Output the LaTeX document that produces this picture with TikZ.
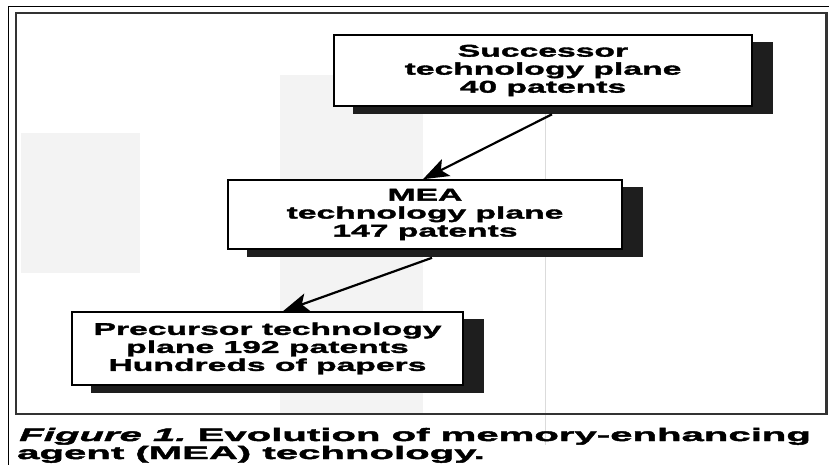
\documentclass[tikz,border=0pt]{standalone}
\usepackage{fontspec}
\usetikzlibrary{calc}
\newfontfamily\boxfont{Liberation Sans Bold}[FakeStretch=1.98, FakeBold=2]
\newfontfamily\capfont{Liberation Sans Bold}[FakeStretch=2.23, FakeBold=2.5]
\newfontfamily\capitfont{Liberation Sans Bold Italic}[FakeStretch=2.23, FakeBold=2.5]
\definecolor{framegray}{HTML}{333333}
\definecolor{shadowgray}{HTML}{1E1E1E}
\definecolor{ghost}{HTML}{F3F3F3}
\pgfdeclarelayer{paper}
\pgfdeclarelayer{shade}
\pgfsetlayers{paper,shade,main}
\tikzset{
  plane/.style={draw=black, line width=1.6pt, fill=white, inner sep=0pt,
    align=center, font=\boxfont\fontsize{17}{18}\selectfont},
  shaft/.style={draw=black, line width=2.2pt},
  capline/.style={anchor=base west, inner sep=0pt,
    font=\capfont\fontsize{18}{18}\selectfont}
}
% solid shadow offset to the lower right of a box
\newcommand\planeshadow[1]{%
  \fill[shadowgray] ($(#1.south west)+(20,-7.5)$) rectangle ($(#1.north east)+(20,-7.5)$);}
% connector from #1 to #2 with a filled stealth-shaped head at #2
\newcommand\flowlink[2]{%
  \draw[shaft] (#1) -- ($(#2)!16pt!(#1)$);
  \fill[black] (#2) -- ($($(#2)!26pt!(#1)$)!9.5pt!90:(#1)$)
    -- ($(#2)!20pt!(#1)$) -- ($($(#2)!26pt!(#1)$)!9.5pt!-90:(#1)$) -- cycle;}
\begin{document}
\begin{tikzpicture}[x=1pt, y=1pt]
  \useasboundingbox (0,0) rectangle (829,-465);

  \begin{pgfonlayer}{paper}
    \fill[white] (0,0) rectangle (829,-465);
    % faint show-through from the reverse of the page
    \fill[ghost] (21,-133) rectangle (140,-273);
    \fill[ghost] (280,-75) rectangle (423,-413);
    \draw[ghost!90!black, line width=0.8pt] (545,-110) -- (545,-445);
    % page border and figure frame
    \draw[black, line width=1.5pt] (829,-6.5) -- (8.5,-6.5) -- (8.5,-465);
    \draw[framegray, line width=2.5pt] (16,-13) rectangle (826.5,-414);
  \end{pgfonlayer}

  % technology planes
  \node[plane, minimum width=418pt, minimum height=71pt] (succ) at (543,-70.5)
    {Successor\\technology plane\\40 patents};
  \node[plane, minimum width=394pt, minimum height=69pt] (mea) at (425,-214.5)
    {MEA\\technology plane\\147 patents};
  \node[plane, minimum width=391pt, minimum height=73pt] (prec) at (267.5,-348.5)
    {Precursor technology\\plane 192 patents\\Hundreds of papers};

  \begin{pgfonlayer}{shade}
    \planeshadow{succ}
    \planeshadow{mea}
    \planeshadow{prec}
  \end{pgfonlayer}

  % evolution arrows, leaving from the lower edge of each shadow
  \coordinate (s1) at ($(succ.south)+(9,-7.5)$);
  \coordinate (t1) at ($(mea.north)+(-2,0)$);
  \coordinate (s2) at ($(mea.south)+(7,-8)$);
  \coordinate (t2) at ($(prec.north)+(15.5,0)$);
  \flowlink{s1}{t1}
  \flowlink{s2}{t2}

  % caption
  \node[capline] (cap1) at (19,-441)
    {{\capitfont Figure 1.}\ Evolution of memory-enhancing};
  \node[capline] (cap2) at (17,-459) {agent (MEA) technology.};
\end{tikzpicture}
\end{document}
